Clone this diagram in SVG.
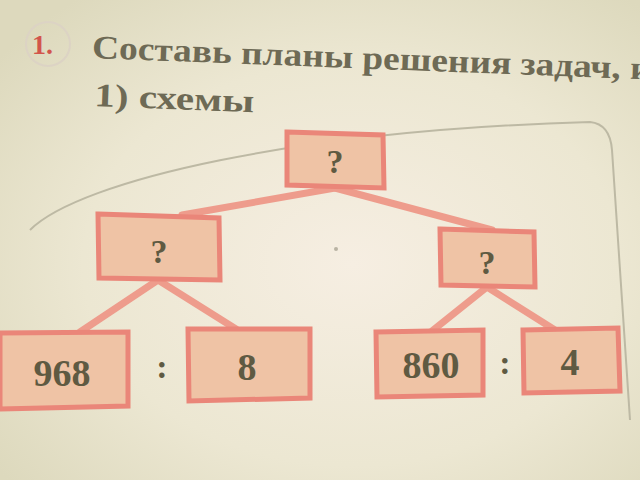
<svg xmlns="http://www.w3.org/2000/svg" width="640" height="480" viewBox="0 0 640 480">
<defs>
<radialGradient id="bg" cx="0.55" cy="0.55" r="0.7">
<stop offset="0" stop-color="#f6eee2"/>
<stop offset="0.6" stop-color="#ece7d2"/>
<stop offset="1" stop-color="#ddd9bd"/>
</radialGradient>
<style>
.box{fill:#efc3a5;stroke:#ea8679;stroke-width:5}
.lbl{font-family:"Liberation Serif","DejaVu Serif",serif;font-weight:bold;fill:#5f5a42;text-anchor:middle}
.con{stroke:#ee9c8c;stroke-width:7;stroke-linecap:round;fill:none}
.head{font-family:"Liberation Serif","DejaVu Serif",serif;font-weight:bold;fill:#6e6a55}
</style>
</defs>
<rect width="640" height="480" fill="url(#bg)"/>
<path d="M30,230 C80,180 300,130 590,122 Q610,124 612,150 L630,420" fill="none" stroke="#bdb9a4" stroke-width="2"/>
<circle cx="48" cy="44" r="22" fill="none" stroke="#dcd3c4" stroke-width="2"/>
<text x="32" y="54" font-family="Liberation Serif,serif" font-weight="bold" font-size="28" fill="#d2554c">1.</text>
<g transform="rotate(2.2 92 52)">
<text class="head" x="92" y="58" font-size="33" textLength="560" lengthAdjust="spacingAndGlyphs">Составь планы решения задач, и</text>
<text class="head" x="96" y="106" font-size="33" textLength="160" lengthAdjust="spacingAndGlyphs">1) схемы</text>
</g>
<g id="connectors">
<line class="con" x1="335" y1="188" x2="182" y2="215"/>
<line class="con" x1="335" y1="188" x2="492" y2="230"/>
<line class="con" x1="158" y1="280" x2="80" y2="332"/>
<line class="con" x1="158" y1="280" x2="236" y2="329"/>
<line class="con" x1="487" y1="287" x2="432" y2="331"/>
<line class="con" x1="487" y1="287" x2="555" y2="330"/>
</g>
<g id="n-top"><polygon class="box" points="287,132 383,135 384,188 287,185"/><text class="lbl" x="335" y="173" font-size="34">?</text></g>
<g id="n-left"><polygon class="box" points="98,214 219,218 220,280 99,278"/><text class="lbl" x="159" y="263" font-size="34">?</text></g>
<g id="n-right"><polygon class="box" points="440,229 534,232 535,287 441,285"/><text class="lbl" x="487" y="274" font-size="34">?</text></g>
<g id="n-968"><polygon class="box" points="0,333 128,332 128,406 0,409"/><text class="lbl" x="62" y="386" font-size="38">968</text></g>
<g id="n-8"><polygon class="box" points="188,329 310,329 310,398 189,401"/><text class="lbl" x="247" y="380" font-size="38">8</text></g>
<g id="n-860"><polygon class="box" points="376,332 483,330 483,395 377,397"/><text class="lbl" x="431" y="378" font-size="38">860</text></g>
<g id="n-4"><polygon class="box" points="523,330 618,328 620,391 524,393"/><text class="lbl" x="570" y="375" font-size="38">4</text></g>
<text class="lbl" x="162" y="378" font-size="34">:</text>
<text class="lbl" x="505" y="374" font-size="34">:</text>
<circle cx="336" cy="249" r="2" fill="#b9b3a3"/>
</svg>
